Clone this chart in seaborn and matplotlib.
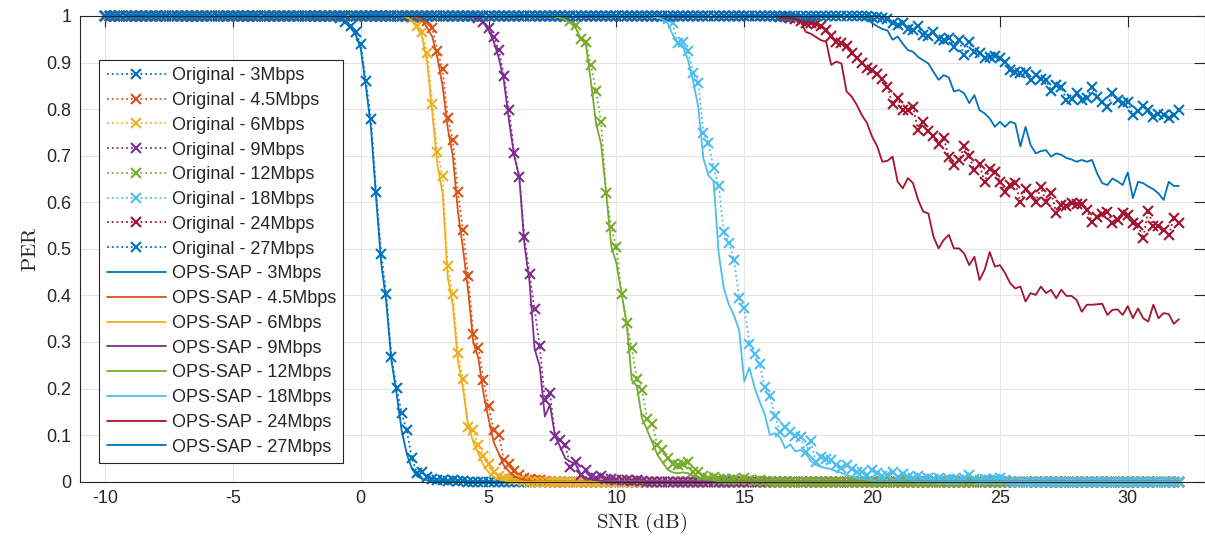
import numpy as np
import matplotlib
matplotlib.use("Agg")
import matplotlib.pyplot as plt
import seaborn as sns

# SNR sweep used by the simulation (dB)
SNR_FIRST, SNR_LAST, SNR_STEP = -10.0, 32.0, 0.2
snr_db = np.round(np.arange(SNR_FIRST, SNR_LAST + SNR_STEP / 2, SNR_STEP), 1)

rates = ["3Mbps", "4.5Mbps", "6Mbps", "9Mbps", "12Mbps", "18Mbps", "24Mbps", "27Mbps"]
rate_colors = ["#0072BD", "#D95319", "#EDB120", "#7E2F8E",
               "#77AC30", "#4DBEEE", "#A2142F", "#0072BD"]

# Each curve: SNR of its first listed point and the PER values from there on
# (PER is 1 below that SNR and 0 after the last listed value).
orig_3_from = -1.0
orig_3 = [0.999, 0.996, 0.988, 0.978, 0.966, 0.939, 0.860, 0.778, 0.623, 0.489,
          0.402, 0.267, 0.202, 0.147, 0.110, 0.050, 0.019, 0.020, 0.011, 0.006,
          0.004, 0.003, 0.002, 0.003, 0.002, 0.001]
ops_3_from = -1.0
ops_3 = [0.999, 0.995, 0.985, 0.975, 0.960, 0.930, 0.850, 0.760, 0.610, 0.470,
         0.385, 0.260, 0.190, 0.110, 0.060, 0.028, 0.012, 0.006, 0.003, 0.002]

orig_45_from = 2.2
orig_45 = [0.999, 0.995, 0.990, 0.974, 0.925, 0.886, 0.781, 0.734, 0.622, 0.540,
           0.442, 0.318, 0.288, 0.218, 0.162, 0.111, 0.100, 0.046, 0.039, 0.022,
           0.015, 0.008, 0.006, 0.004, 0.003, 0.002]
ops_45_from = 2.0
ops_45 = [0.999, 0.997, 0.990, 0.975, 0.955, 0.910, 0.850, 0.760, 0.700, 0.580,
          0.500, 0.410, 0.300, 0.265, 0.190, 0.135, 0.085, 0.060, 0.035, 0.022,
          0.012, 0.007, 0.004, 0.002]

orig_6_from = 1.8
orig_6 = [0.999, 0.995, 0.979, 0.965, 0.921, 0.811, 0.709, 0.657, 0.463, 0.404,
          0.276, 0.221, 0.117, 0.110, 0.078, 0.056, 0.039, 0.020, 0.012, 0.008,
          0.005, 0.004, 0.003, 0.002]
ops_6_from = 1.8
ops_6 = [0.998, 0.990, 0.975, 0.955, 0.900, 0.790, 0.680, 0.620, 0.440, 0.380,
         0.260, 0.200, 0.120, 0.085, 0.060, 0.035, 0.020, 0.010, 0.005, 0.003]

orig_9_from = 4.4
orig_9 = [0.999, 0.996, 0.988, 0.975, 0.955, 0.927, 0.871, 0.798, 0.705, 0.655,
          0.525, 0.446, 0.370, 0.291, 0.175, 0.190, 0.098, 0.089, 0.079, 0.032,
          0.043, 0.014, 0.025, 0.010, 0.007, 0.012, 0.006, 0.005, 0.004, 0.003,
          0.004, 0.002, 0.003, 0.002]
ops_9_from = 4.4
ops_9 = [0.998, 0.995, 0.985, 0.970, 0.945, 0.910, 0.860, 0.775, 0.700, 0.655,
         0.510, 0.430, 0.285, 0.248, 0.140, 0.165, 0.098, 0.075, 0.050, 0.043,
         0.038, 0.016, 0.008, 0.005, 0.003, 0.002]

orig_12_from = 7.8
orig_12 = [0.999, 0.997, 0.990, 0.981, 0.950, 0.945, 0.895, 0.840, 0.772, 0.619,
           0.547, 0.503, 0.404, 0.340, 0.287, 0.221, 0.196, 0.135, 0.124, 0.078,
           0.067, 0.051, 0.039, 0.035, 0.039, 0.042, 0.020, 0.020, 0.012, 0.008,
           0.010, 0.006, 0.005, 0.004, 0.006, 0.003, 0.008, 0.003, 0.002, 0.003,
           0.002]
ops_12_from = 7.6
ops_12 = [0.999, 0.996, 0.992, 0.985, 0.975, 0.952, 0.941, 0.860, 0.770, 0.725,
          0.620, 0.505, 0.469, 0.404, 0.340, 0.218, 0.205, 0.136, 0.111, 0.085,
          0.058, 0.042, 0.026, 0.020, 0.018, 0.020, 0.018, 0.012, 0.008, 0.006,
          0.005, 0.003]

orig_18_from = 11.6
orig_18 = [0.999, 0.998, 0.993, 0.984, 0.941, 0.945, 0.924, 0.877, 0.857, 0.749,
           0.727, 0.674, 0.636, 0.536, 0.513, 0.476, 0.394, 0.374, 0.296, 0.274,
           0.253, 0.203, 0.185, 0.142, 0.106, 0.117, 0.106, 0.099, 0.097, 0.064,
           0.088, 0.042, 0.053, 0.049, 0.047, 0.035, 0.030, 0.036, 0.028, 0.020,
           0.021, 0.015, 0.025, 0.018, 0.012, 0.015, 0.020, 0.010, 0.016, 0.010,
           0.008, 0.012, 0.006, 0.008, 0.005, 0.007, 0.004, 0.006, 0.005, 0.004,
           0.008, 0.014, 0.005, 0.004, 0.006, 0.003, 0.005, 0.008, 0.003]
ops_18_from = 11.4
ops_18 = [0.999, 0.997, 0.993, 0.985, 0.960, 0.942, 0.936, 0.905, 0.860, 0.805,
          0.694, 0.658, 0.645, 0.490, 0.415, 0.380, 0.357, 0.325, 0.215, 0.245,
          0.203, 0.172, 0.145, 0.100, 0.104, 0.095, 0.072, 0.080, 0.065, 0.068,
          0.061, 0.045, 0.036, 0.032, 0.029, 0.027, 0.022, 0.019, 0.014, 0.011,
          0.008, 0.006, 0.005, 0.003]

orig_24_from = 16.2
orig_24 = [0.999, 0.998, 0.997, 0.995, 0.993, 0.990, 0.986, 0.985, 0.983, 0.978,
           0.970, 0.958, 0.945, 0.941, 0.935, 0.920, 0.910, 0.900, 0.888, 0.884,
           0.875, 0.864, 0.848, 0.811, 0.823, 0.798, 0.798, 0.804, 0.755, 0.773,
           0.752, 0.743, 0.725, 0.739, 0.697, 0.680, 0.690, 0.720, 0.700, 0.669,
           0.682, 0.644, 0.671, 0.666, 0.644, 0.623, 0.637, 0.641, 0.601, 0.628,
           0.615, 0.601, 0.632, 0.601, 0.621, 0.578, 0.594, 0.591, 0.599, 0.597,
           0.596, 0.583, 0.558, 0.569, 0.575, 0.580, 0.556, 0.562, 0.578, 0.573,
           0.556, 0.551, 0.523, 0.582, 0.548, 0.549, 0.540, 0.530, 0.566, 0.555]
ops_24_from = 16.4
ops_24 = [0.997, 0.996, 0.995, 0.994, 0.990, 0.966, 0.962, 0.955, 0.948, 0.945,
          0.895, 0.902, 0.898, 0.838, 0.827, 0.809, 0.787, 0.770, 0.741, 0.720,
          0.687, 0.689, 0.698, 0.644, 0.630, 0.652, 0.641, 0.605, 0.580, 0.576,
          0.526, 0.501, 0.519, 0.530, 0.501, 0.501, 0.490, 0.465, 0.483, 0.433,
          0.455, 0.493, 0.462, 0.465, 0.448, 0.426, 0.415, 0.419, 0.387, 0.405,
          0.401, 0.419, 0.405, 0.412, 0.394, 0.412, 0.399, 0.399, 0.390, 0.365,
          0.380, 0.380, 0.381, 0.382, 0.358, 0.369, 0.370, 0.358, 0.377, 0.351,
          0.372, 0.351, 0.344, 0.380, 0.351, 0.362, 0.360, 0.339, 0.349]

orig_27_from = 19.8
orig_27 = [0.999, 0.998, 0.997, 0.995, 0.993, 0.985, 0.981, 0.984, 0.972, 0.969,
           0.979, 0.960, 0.956, 0.966, 0.950, 0.949, 0.952, 0.934, 0.949, 0.916,
           0.945, 0.923, 0.920, 0.909, 0.913, 0.915, 0.909, 0.902, 0.884, 0.880,
           0.877, 0.880, 0.863, 0.873, 0.865, 0.863, 0.840, 0.852, 0.847, 0.820,
           0.821, 0.834, 0.820, 0.823, 0.847, 0.827, 0.816, 0.805, 0.835, 0.820,
           0.813, 0.816, 0.787, 0.795, 0.807, 0.798, 0.784, 0.790, 0.787, 0.780,
           0.787, 0.798]
ops_27_from = 19.6
ops_27 = [0.997, 0.993, 0.985, 0.978, 0.972, 0.969, 0.949, 0.956, 0.940, 0.927,
          0.923, 0.912, 0.905, 0.898, 0.880, 0.863, 0.873, 0.868, 0.838, 0.841,
          0.834, 0.813, 0.830, 0.798, 0.791, 0.780, 0.762, 0.773, 0.762, 0.773,
          0.769, 0.720, 0.762, 0.723, 0.705, 0.710, 0.712, 0.698, 0.705, 0.702,
          0.695, 0.692, 0.687, 0.691, 0.687, 0.691, 0.662, 0.641, 0.637, 0.651,
          0.645, 0.637, 0.664, 0.609, 0.644, 0.641, 0.634, 0.628, 0.619, 0.605,
          0.644, 0.635, 0.635]

original_curves = [(orig_3_from, orig_3), (orig_45_from, orig_45), (orig_6_from, orig_6),
                   (orig_9_from, orig_9), (orig_12_from, orig_12), (orig_18_from, orig_18),
                   (orig_24_from, orig_24), (orig_27_from, orig_27)]
ops_curves = [(ops_3_from, ops_3), (ops_45_from, ops_45), (ops_6_from, ops_6),
              (ops_9_from, ops_9), (ops_12_from, ops_12), (ops_18_from, ops_18),
              (ops_24_from, ops_24), (ops_27_from, ops_27)]


def per_curve(first_snr, values):
    """PER over the whole sweep: 1 before the listed values, 0 after them."""
    i0 = int(round((first_snr - SNR_FIRST) / SNR_STEP))
    per = np.zeros(len(snr_db))
    per[:i0] = 1.0
    per[i0:i0 + len(values)] = values[:len(snr_db) - i0]
    return per


sns.set_theme(style="white")
plt.rcParams["font.family"] = ["Liberation Sans", "DejaVu Sans"]
plt.rcParams["mathtext.fontset"] = "cm"
plt.rcParams["axes.unicode_minus"] = False

W, H = 1205, 545
fig = plt.figure(figsize=(W / 100, H / 100), dpi=100)
left, right, top, bottom = 79.5, 1204.5, 16.0, 481.7
ax = fig.add_axes([left / W, 1 - bottom / H, (right - left) / W, (bottom - top) / H])

for (first, vals), rate, col in zip(original_curves, rates, rate_colors):
    sns.lineplot(x=snr_db, y=per_curve(first, vals), ax=ax, color=col,
                 linestyle=":", linewidth=1.3, label=f"Original - {rate}",
                 estimator=None, sort=False, clip_on=False)
    line = ax.lines[-1]
    line.set_marker("x")
    line.set_markersize(7.2)
    line.set_markeredgewidth(1.5)
    line.set_markeredgecolor(col)
    line.set_markerfacecolor(col)

for (first, vals), rate, col in zip(ops_curves, rates, rate_colors):
    sns.lineplot(x=snr_db, y=per_curve(first, vals), ax=ax, color=col,
                 linestyle="-", linewidth=1.3, label=f"OPS-SAP - {rate}",
                 estimator=None, sort=False, clip_on=True)

ax.set_xlim(-11, 33)
ax.set_ylim(0, 1)
xt = np.arange(-10, 31, 5)
ax.set_xticks(xt, [f"{v:g}" for v in xt])
yt = np.round(np.arange(0, 1.01, 0.1), 1)
ax.set_yticks(yt, [f"{v:g}" for v in yt])

ax.grid(True, color="#e4e4e4", linewidth=0.8)
ax.set_axisbelow(True)
for sp in ax.spines.values():
    sp.set_visible(True)
    sp.set_color("#262626")
    sp.set_linewidth(0.8)
ax.tick_params(direction="in", length=8, width=0.8, top=True, right=True,
               colors="#262626", labelsize=13, pad=6)

ax.set_xlabel(r"$\mathrm{SNR\ (dB)}$", fontsize=15, color="#262626", labelpad=3)
ax.set_ylabel(r"$\mathrm{PER}$", fontsize=15, color="#262626", labelpad=4)

leg = ax.legend(loc="upper left", bbox_to_anchor=(0.0177, 0.9055), borderaxespad=0,
                fontsize=13, frameon=True, fancybox=False, edgecolor="#262626",
                framealpha=1, facecolor="white", handlelength=3.3, handletextpad=0.3,
                labelspacing=0.43, borderpad=0.4, numpoints=1)
leg.get_frame().set_linewidth(0.8)

fig.savefig("out.png", dpi=100)
